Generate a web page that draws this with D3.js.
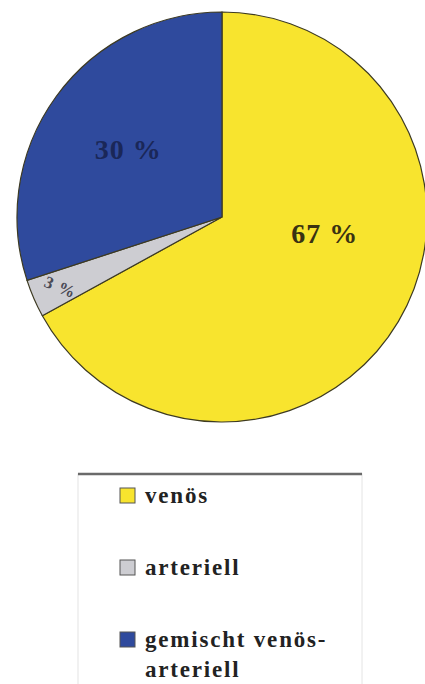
<!DOCTYPE html>
<html>
<head>
<meta charset="utf-8">
<script src="https://cdn.jsdelivr.net/npm/d3@7"></script>
<style>
  body { margin: 0; background: #fff; }
  svg { display: block; }
  .serif { font-family: 'Liberation Serif', 'Times New Roman', Times, serif; font-weight: bold; }
</style>
</head>
<body>
<svg width="425" height="684"></svg>
<script>
// chart data
const categories = ['venös', 'arteriell', 'gemischt venös-arteriell'];
const legendLines = [['venös'], ['arteriell'], ['gemischt venös-', 'arteriell']];
const shares = [67, 3, 30];
const sliceLabels = ['67 %', '3 %', '30 %'];

const colors = ['#f8e42e', '#cdcdd2', '#2f4a9d'];
const labelColors = ['#3a3212', '#4a4a55', '#1a2758'];

const svg = d3.select('svg');
const cx = 222, cy = 217, radius = 205;

const pie = d3.pie().sort(null).value(d => d.value);
const arcs = pie(shares.map((v, i) => ({ value: v, name: categories[i], i })));

const arc = d3.arc().innerRadius(0).outerRadius(radius);

const g = svg.append('g')
    .attr('transform', `translate(${cx},${cy})`);

g.selectAll('path').data(arcs)
  .enter().append('path')
    .attr('d', arc)
    .attr('fill', d => colors[d.data.i])
    .attr('stroke', '#3d3a22')
    .attr('stroke-width', 1.2);

// label placement: radius and angle shift (radians) per slice
const labelLayout = [
  { r: 104, shift: -0.38, size: 28, rot: 0 },
  { r: 176, shift: 0, size: 17, rot: 22 },
  { r: 116, shift: 0, size: 28, rot: 0 }
];

g.selectAll('text.lbl').data(arcs)
  .enter().append('text')
    .attr('class', 'lbl serif')
    .attr('transform', d => {
      const L = labelLayout[d.data.i];
      const a = (d.startAngle + d.endAngle) / 2 + L.shift;
      const x = L.r * Math.sin(a), y = -L.r * Math.cos(a);
      return `translate(${x},${y}) rotate(${L.rot})`;
    })
    .attr('text-anchor', 'middle')
    .attr('dy', '0.35em')
    .style('font-size', d => labelLayout[d.data.i].size + 'px')
    .style('letter-spacing', '1px')
    .attr('fill', d => labelColors[d.data.i])
    .text(d => sliceLabels[d.data.i]);

// legend box
const legend = svg.append('g');
legend.append('rect')
    .attr('x', 78).attr('y', 474)
    .attr('width', 284).attr('height', 230)
    .attr('fill', 'none')
    .attr('stroke', '#e4e4e4')
    .attr('stroke-width', 1);
legend.append('line')
    .attr('x1', 78).attr('x2', 362)
    .attr('y1', 474).attr('y2', 474)
    .attr('stroke', '#6a6a6a')
    .attr('stroke-width', 2.5);

const ly = d3.scalePoint()
    .domain(categories)
    .range([503, 647]);

const item = legend.selectAll('g.item').data(categories)
  .enter().append('g')
    .attr('class', 'item')
    .attr('transform', d => `translate(0,${ly(d)})`);

item.append('rect')
    .attr('x', 120).attr('y', -15)
    .attr('width', 15).attr('height', 15)
    .attr('fill', (d, i) => colors[i])
    .attr('stroke', '#555')
    .attr('stroke-width', 1);

item.append('text')
    .attr('class', 'serif')
    .attr('x', 145)
    .style('font-size', '23px')
    .style('letter-spacing', '1.8px')
    .attr('fill', '#222')
    .each(function(d, i) {
      d3.select(this).selectAll('tspan').data(legendLines[i])
        .enter().append('tspan')
          .attr('x', 145)
          .attr('dy', (t, j) => j === 0 ? 0 : 30)
          .text(t => t);
    });
</script>
</body>
</html>
